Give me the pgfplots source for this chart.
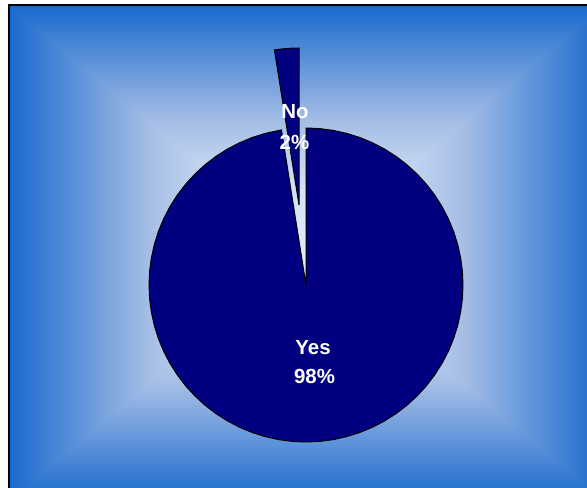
\documentclass[border=0pt]{standalone}
\usepackage{pgfplots}
\pgfplotsset{compat=1.18}
\usepgfplotslibrary{polar}
\usepackage{fontspec}
\setmainfont{Liberation Sans}

\definecolor{piefill}{RGB}{0,0,128}
\definecolor{bgedge}{RGB}{25,105,205}
\definecolor{bgmid}{RGB}{165,190,230}
\definecolor{bgin}{RGB}{212,226,245}
\definecolor{bgcen}{RGB}{222,234,250}

% rectangle-from-centre gradient
\pgfdeclareverticalshading{bgshade}{100bp}{%
  color(0bp)=(bgcen); color(25bp)=(bgcen); color(37.5bp)=(bgin);
  color(51.5bp)=(bgmid); color(75bp)=(bgedge); color(100bp)=(bgedge)}

\begin{document}
\begin{tikzpicture}
\useasboundingbox (0,0) rectangle (587bp,-488bp);

% chart area background: top/bottom halves first, side triangles over them
\shade[shading=bgshade] (9bp,-5bp) rectangle (603bp,-252.5bp);
\shade[shading=bgshade, shading angle=180] (9bp,-252.5bp) rectangle (603bp,-500bp);
\shade[shading=bgshade, shading angle=90] (9bp,-5bp) -- (9bp,-500bp) -- (306bp,-252.5bp) -- cycle;
\shade[shading=bgshade, shading angle=-90] (603bp,-5bp) -- (603bp,-500bp) -- (306bp,-252.5bp) -- cycle;
\draw[line width=1.2bp] (9bp,-500bp) rectangle (603bp,-5bp);

\begin{polaraxis}[
  hide axis,
  scale only axis,
  width=314bp, height=314bp,
  ymin=0, ymax=1,
  clip=false,
  at={(306bp,-285bp)}, anchor=center,
]
% Yes (98%)
\addplot[draw=black, fill=piefill, line width=1bp] coordinates {
  (0,0) (99,1) (105,1) (110,1) (115,1) (120,1) (125,1) (130,1) (135,1)
  (140,1) (145,1) (150,1) (155,1) (160,1) (165,1) (170,1) (175,1) (180,1)
  (185,1) (190,1) (195,1) (200,1) (205,1) (210,1) (215,1) (220,1) (225,1)
  (230,1) (235,1) (240,1) (245,1) (250,1) (255,1) (260,1) (265,1) (270,1)
  (275,1) (280,1) (285,1) (290,1) (295,1) (300,1) (305,1) (310,1) (315,1)
  (320,1) (325,1) (330,1) (335,1) (340,1) (345,1) (350,1) (355,1) (360,1)
  (365,1) (370,1) (375,1) (380,1) (385,1) (390,1) (395,1) (400,1) (405,1)
  (410,1) (415,1) (420,1) (425,1) (430,1) (435,1) (440,1) (445,1) (450,1)
  (0,0)
} -- cycle;
% No (2%), pulled out
\addplot[draw=black, fill=piefill, line width=1bp, xshift=-7bp, yshift=80bp] coordinates {
  (0,0) (90,1) (93,1) (96,1) (99,1) (0,0)
} -- cycle;
\end{polaraxis}

\begin{scope}[every node/.style={text=white, font=\fontsize{20.5}{24}\selectfont\bfseries, inner sep=0pt}]
\node at (295bp,-112bp) {No};
\node at (294.5bp,-142bp) {2\%};
\node at (313bp,-347.5bp) {Yes};
\node at (314.5bp,-376.7bp) {98\%};
\end{scope}
\end{tikzpicture}
\end{document}
